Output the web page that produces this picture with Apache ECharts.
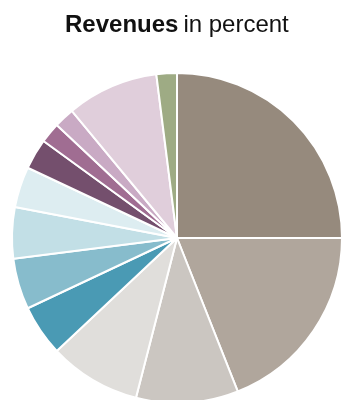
<!DOCTYPE html>
<html lang="en">
<head>
  <meta charset="UTF-8">
  <title>Revenues</title>
  <script src="https://cdn.jsdelivr.net/npm/echarts@6/dist/echarts.min.js"></script>
  <style>
    html, body { margin: 0; padding: 0; background: #fff; }
  </style>
</head>
<body>
  <div id="app" style="width: 341px; height: 400px;"></div>
  <script>
    var names = ['A', 'B', 'C', 'D', 'E', 'F', 'G', 'H', 'I', 'J', 'K', 'L', 'M']
    var values = [25, 19, 10, 9, 5, 5, 5, 4, 3, 2, 2, 9, 2]
    var colors = ['#968a7d', '#b0a69c', '#cbc6c1', '#e0dedb', '#4a9ab4', '#87bccc',
      '#c2dfe6', '#ddedf1', '#744f6d', '#a06d92', '#c9aac4', '#e0cedb', '#9eab84']

    var chart = echarts.init(document.querySelector('#app'))
    var data = []
    for (var i = 0; i < values.length; i++) {
      data.push({ name: names[i], value: values[i], itemStyle: { color: colors[i] } })
    }

    var option = {
      animation: false,
      title: {
        text: '{b|Revenues} {n|in percent}',
        left: 60,
        top: 8,
        textStyle: {
          rich: {
            b: { fontFamily: 'Liberation Sans', fontSize: 24, fontWeight: 'bold', color: '#111' },
            n: { fontFamily: 'Liberation Sans', fontSize: 24, fontWeight: 'normal', color: '#111' }
          }
        }
      },
      series: [
        {
          type: 'pie',
          center: [177, 238],
          radius: [0, 165],
          startAngle: 90,
          clockwise: true,
          label: { show: false },
          labelLine: { show: false },
          emphasis: { disabled: true },
          itemStyle: { borderColor: '#fff', borderWidth: 2 },
          data: data
        }
      ]
    }
    chart.setOption(option)
  </script>
</body>
</html>
